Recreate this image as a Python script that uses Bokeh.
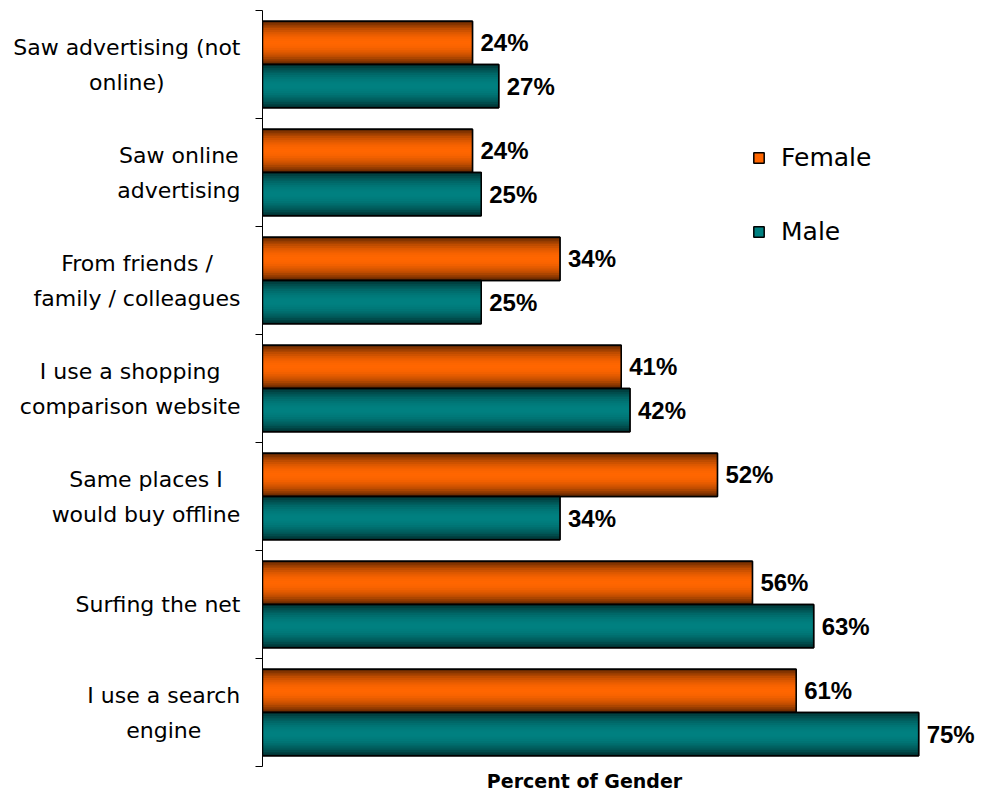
import math
from bokeh.plotting import figure
from bokeh.layouts import row, column
from bokeh.models import (ColumnDataSource, Range1d, FixedTicker, Legend, LegendItem)
from bokeh.core.properties import value
from bokeh.embed import file_html
from bokeh.resources import INLINE

# ---- data ----
categories = [
    "Saw advertising (not\nonline)",
    "Saw online\nadvertising",
    "From friends /\nfamily / colleagues",
    "I use a shopping\ncomparison website",
    "Same places I\nwould buy offline",
    "Surfing the net",
    "I use a search\nengine",
]
series_names = ["Female", "Male"]
female = [24, 24, 34, 41, 52, 56, 61]
male = [27, 25, 25, 42, 34, 63, 75]
axis_title = "Percent of Gender"

n = len(categories)
centers = [n - 0.5 - i for i in range(n)]  # top category first
boundaries = list(range(n + 1))

TOP_H = 768
def bare(fig):
    fig.outline_line_color = None
    fig.grid.visible = False
    fig.background_fill_color = "white"
    fig.border_fill_color = "white"

# ---------------- main chart ----------------
p = figure(width=740, height=TOP_H, output_backend="svg", toolbar_location=None,
           x_range=Range1d(0, 82.3), y_range=Range1d(0, n),
           min_border_left=20, min_border_right=0, min_border_top=10,
           min_border_bottom=2)
bare(p)
p.xaxis.visible = False

BAR_H = 0.4
NSTRIP = 24

def shade(rgb, t):
    s = math.sin(math.pi * t)
    k = 0.32 + 0.68 * s ** 0.8
    return "#%02x%02x%02x" % tuple(int(round(c * k)) for c in rgb)

series = [
    (female, (255, 102, 0), "#ff6600", 0.0),   # upper half of the group
    (male, (0, 128, 128), "#008080", -BAR_H),  # lower half
]

legend_items = []
for (vals, rgb, base_col, off), name in zip(series, series_names):
    ys = [c + off + BAR_H / 2 for c in centers]
    src = ColumnDataSource(dict(y=ys, right=vals))
    base = p.hbar(y="y", left=0, right="right", height=BAR_H, source=src,
                  fill_color=base_col, line_color="black", line_width=1.5)
    legend_items.append(LegendItem(label=name, renderers=[base]))
    # gradient strips
    sy, sr, sc = [], [], []
    for k in range(NSTRIP):
        t = (k + 0.5) / NSTRIP
        col = shade(rgb, t)
        for c, v in zip(centers, vals):
            sy.append(c + off + BAR_H * (1 - t))
            sr.append(v)
            sc.append(col)
    ssrc = ColumnDataSource(dict(y=sy, right=sr, color=sc))
    p.hbar(y="y", left=0, right="right", height=BAR_H / NSTRIP * 1.2, source=ssrc,
           fill_color="color", line_color=None)
    p.hbar(y="y", left=0, right="right", height=BAR_H, source=src,
           fill_color=None, line_color="black", line_width=1.5)
    lsrc = ColumnDataSource(dict(x=vals, y=ys, t=[f"{v}%" for v in vals]))
    p.text(x="x", y="y", text="t", source=lsrc, x_offset=8, text_baseline="middle",
           text_align="left", text_font=value("Liberation Sans"), text_font_style="bold",
           text_font_size="24px", text_color="black")

legend = Legend(items=legend_items, location=(490, 520), orientation="vertical",
                glyph_width=13, glyph_height=13, label_height=20, spacing=45,
                label_standoff=16, padding=0, margin=0,
                border_line_color=None, background_fill_alpha=0,
                label_text_font="DejaVu Sans", label_text_font_size="25px",
                label_text_color="black")
p.add_layout(legend)

# y axis: only tick marks at the category boundaries
ya = p.yaxis[0]
ya.ticker = FixedTicker(ticks=[], minor_ticks=boundaries)
ya.major_tick_line_color = None
ya.minor_tick_line_color = "black"
ya.minor_tick_out = 7
ya.minor_tick_in = 0
ya.major_label_standoff = 0
ya.axis_line_color = "black"

# ---------------- category labels (left panel) ----------------
LEFT_W = 242
LABEL_PX = 22
lp = figure(width=LEFT_W, height=TOP_H, output_backend="svg", toolbar_location=None,
            x_range=Range1d(0, LEFT_W), y_range=p.y_range,
            min_border_left=0, min_border_right=0, min_border_top=10,
            min_border_bottom=2)
bare(lp)
lp.axis.visible = False

_w = {"S": 1300, "a": 1255, "w": 1675, " ": 651, "d": 1300, "v": 1212, "e": 1260,
      "r": 842, "t": 803, "i": 569, "s": 1067, "n": 1298, "g": 1300, "(": 799,
      ")": 799, "o": 1253, "l": 569, "F": 1178, "m": 1995, "f": 721, "/": 690,
      "y": 1212, "c": 1126, "u": 1298, "h": 1298, "p": 1300, "b": 1300, "I": 604}

def text_width(s):
    return sum(_w.get(ch, 1200) for ch in s) * LABEL_PX / 2048

label_x = [LEFT_W - 2 - max(text_width(l) for l in lab.split("\n")) / 2
           for lab in categories]
csrc = ColumnDataSource(dict(x=label_x, y=centers, t=categories))
lp.text(x="x", y="y", text="t", source=csrc, text_align="center",
        text_baseline="middle", text_font=value("DejaVu Sans"),
        text_font_size=f"{LABEL_PX}px", text_color="black", text_line_height=1.4)

# ---------------- axis title (bottom strip) ----------------
STRIP_H = 790 - TOP_H
bp = figure(width=982, height=STRIP_H, output_backend="svg", toolbar_location=None,
            x_range=Range1d(0, 982), y_range=Range1d(0, STRIP_H),
            min_border_left=0, min_border_right=0, min_border_top=0,
            min_border_bottom=0)
bare(bp)
bp.axis.visible = False
bp.text(x=[584], y=[STRIP_H / 2 - 1], text=[axis_title], text_align="center",
        text_baseline="middle", text_font=value("DejaVu Sans"),
        text_font_style="bold", text_font_size="19px", text_color="black")

layout = column(row(lp, p, spacing=0), bp, spacing=0)
open("out.html", "w").write(file_html(layout, INLINE))
